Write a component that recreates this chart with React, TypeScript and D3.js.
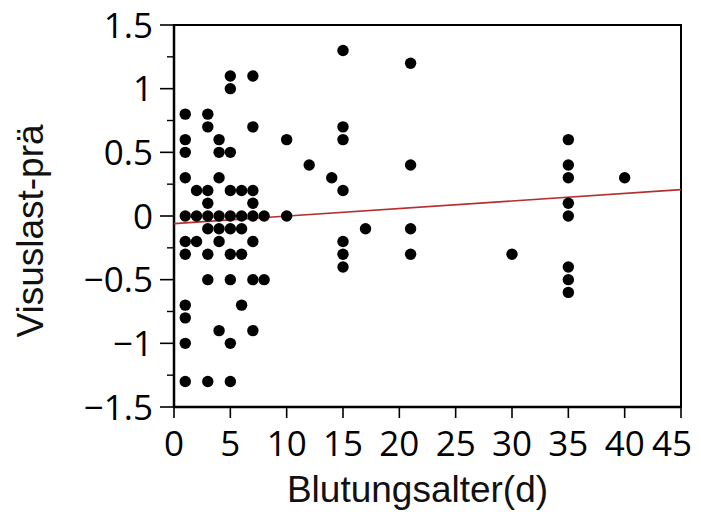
import React from 'react';
import * as d3 from 'd3';

// bleeding age in days (x) and visus change (y)
const days = [
  1, 1, 1, 1, 1, 1, 1, 1, 1, 1, 1,
  2, 2, 2,
  3, 3, 3, 3, 3, 3, 3, 3, 3,
  4, 4, 4, 4, 4, 4, 4,
  5, 5, 5, 5, 5, 5, 5, 5, 5, 5,
  6, 6, 6, 6, 6,
  7, 7, 7, 7, 7, 7, 7, 7,
  8, 8,
  10, 10,
  12,
  14,
  15, 15, 15, 15, 15, 15, 15,
  17,
  21, 21, 21, 21,
  30,
  35, 35, 35, 35, 35, 35, 35, 35,
  40,
];
const visus = [
  0.8, 0.6, 0.5, 0.3, 0, -0.2, -0.3, -0.7, -0.8, -1.0, -1.3,
  0.2, 0, -0.2,
  0.8, 0.7, 0.2, 0.1, 0, -0.1, -0.3, -0.5, -1.3,
  0.6, 0.5, 0.3, 0, -0.1, -0.2, -0.9,
  1.1, 1.0, 0.5, 0.2, 0, -0.1, -0.3, -0.5, -1.0, -1.3,
  0.2, 0, -0.1, -0.3, -0.7,
  1.1, 0.7, 0.2, 0.1, 0, -0.2, -0.5, -0.9,
  0, -0.5,
  0.6, 0,
  0.4,
  0.3,
  1.3, 0.7, 0.6, 0.2, -0.2, -0.3, -0.4,
  -0.1,
  1.2, 0.4, -0.1, -0.3,
  -0.3,
  0.6, 0.4, 0.3, 0.1, 0, -0.4, -0.5, -0.6,
  0.3,
];

const xTicks = [0, 5, 10, 15, 20, 25, 30, 35, 40, 45];
const yTicks = [-1.5, -1, -0.5, 0, 0.5, 1, 1.5];
const yMinor = [-1.25, -0.75, -0.25, 0.25, 0.75, 1.25];

// linear fit shown in red
const fitIntercept = -0.06;
const fitSlope = 0.00593;

const W = 701;
const H = 529;
const m = { left: 174, right: 20, top: 25, bottom: 122 };

const tickFont = '"Open Sans", sans-serif';
const titleFont = '"Liberation Sans", Arial, sans-serif';

const fmt = (v: number) => (v < 0 ? '\u2212' : '') + String(Math.abs(v));

export default function App() {
  const x = d3.scaleLinear().domain([0, 45]).range([m.left, W - m.right]);
  const y = d3.scaleLinear().domain([-1.5, 1.5]).range([H - m.bottom, m.top]);

  const x0 = x(0), x1 = x(45);
  const yTop = y(1.5), yBot = y(-1.5);

  return (
    <svg width={W} height={H} style={{ position: 'absolute', left: 0, top: 0, background: '#fff' }}>
      {/* frame */}
      <rect x={x0} y={yTop} width={x1 - x0} height={yBot - yTop} fill="none" stroke="#000" strokeWidth={2} />
      <line x1={x0} x2={x0} y1={yTop} y2={yBot + 1} stroke="#000" strokeWidth={2.5} />
      <line x1={x0 - 1} x2={x1} y1={yBot} y2={yBot} stroke="#000" strokeWidth={2.5} />

      {/* y axis */}
      {yTicks.map((t) => (
        <g key={'y' + t}>
          <line x1={x0 - 14} x2={x0} y1={y(t)} y2={y(t)} stroke="#000" strokeWidth={1.6} />
          <text x={x0 - 21} y={y(t)} dy="0.36em" textAnchor="end" fontFamily={tickFont} fontSize={35} fill="#000">
            {fmt(t)}
          </text>
        </g>
      ))}
      {yMinor.map((t) => (
        <line key={'ym' + t} x1={x0 - 7} x2={x0} y1={y(t)} y2={y(t)} stroke="#000" strokeWidth={1.4} />
      ))}

      {/* x axis */}
      {xTicks.map((t, i) => (
        <g key={'x' + t}>
          <line x1={x(t)} x2={x(t)} y1={yBot} y2={yBot + 11} stroke="#000" strokeWidth={1.6} />
          <text
            x={x(t)} dx={i === xTicks.length - 1 ? -9 : 0} y={yBot + 49}
            textAnchor="middle" fontFamily={tickFont} fontSize={35} fill="#000"
          >
            {t}
          </text>
        </g>
      ))}

      {/* fit line */}
      <line
        x1={x(0)} y1={y(fitIntercept)}
        x2={x(45)} y2={y(fitIntercept + fitSlope * 45)}
        stroke="#b2302e" strokeWidth={1.6}
      />

      {/* points */}
      {days.map((d, i) => (
        <circle key={i} cx={x(d)} cy={y(visus[i])} r={5.7} fill="#000" />
      ))}

      {/* titles */}
      <text x={(x0 + x1) / 2 - 10} y={502} textAnchor="middle" fontFamily={titleFont} fontSize={37} fill="#111">
        Blutungsalter(d)
      </text>
      <text
        transform={`translate(43, ${(yTop + yBot) / 2 + 15}) rotate(-90)`}
        textAnchor="middle" fontFamily={titleFont} fontSize={37} fill="#111"
      >
        Visuslast-prä
      </text>
    </svg>
  );
}
